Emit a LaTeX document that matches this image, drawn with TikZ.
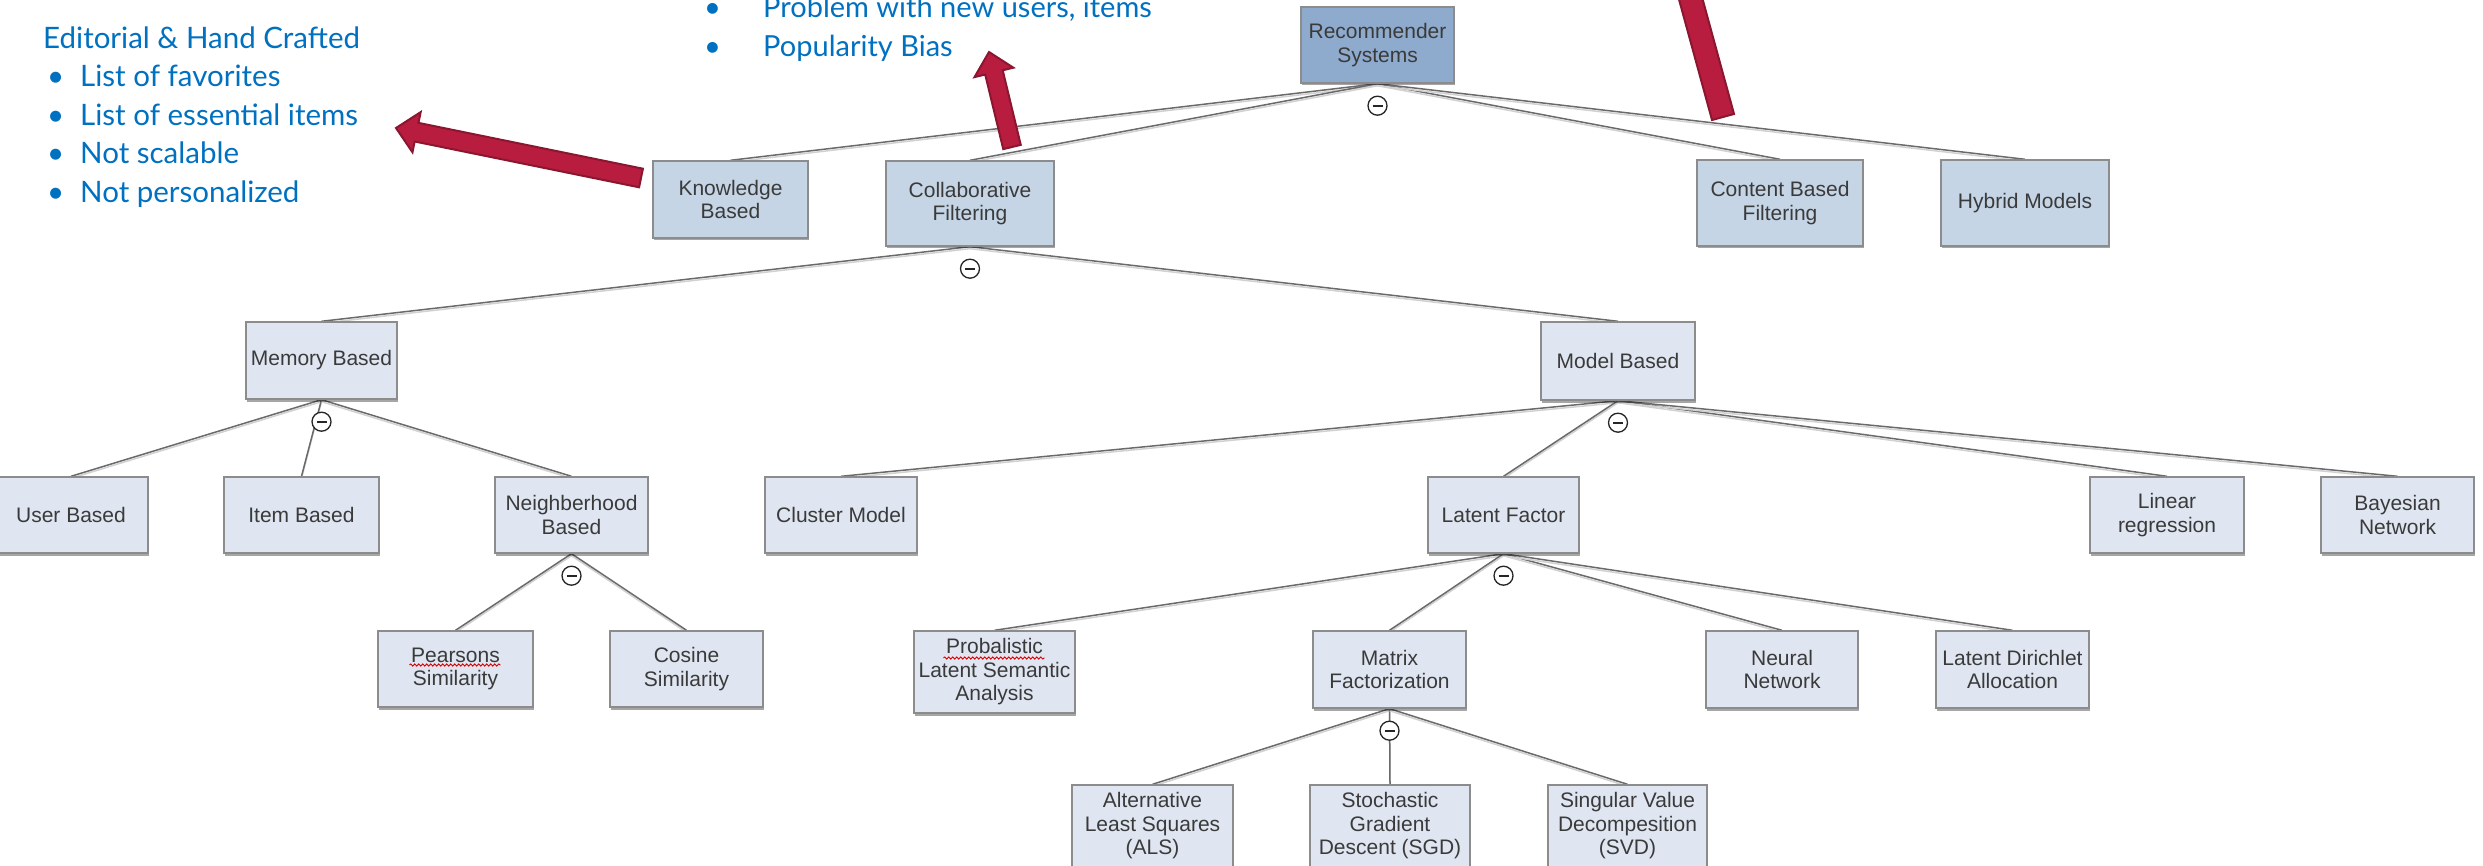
\documentclass[tikz,border=0pt]{standalone}
\usepackage{fontspec}
\setmainfont{Liberation Sans}
\newfontfamily\notefont{Lato}
\usetikzlibrary{calc,shadows,decorations.pathmorphing}

\definecolor{boxline}{HTML}{8C8C8C}
\definecolor{topfill}{HTML}{8EAACC}
\definecolor{midfill}{HTML}{C5D5E6}
\definecolor{leaffill}{HTML}{DFE6F1}
\definecolor{boxtext}{HTML}{3A3A3A}
\definecolor{linkgray}{HTML}{6A6A6A}
\definecolor{noteblue}{HTML}{0070C0}
\definecolor{arrowred}{HTML}{B81D40}
\definecolor{arrowedge}{HTML}{8A1630}

\pgfdeclarelayer{bg}
\pgfsetlayers{bg,main}

\tikzset{
  box/.style={rectangle, draw=boxline, line width=1.4pt, fill=leaffill,
    inner sep=0pt, align=center, text=boxtext,
    font=\fontsize{21pt}{23.5pt}\selectfont,
    drop shadow={shadow xshift=1pt, shadow yshift=-2.5pt, opacity=0.35, fill=black}},
  lvlbox/.style={box, fill=midfill},
  rootbox/.style={box, fill=topfill},
  sz/.style 2 args={minimum width=#1pt, minimum height=#2pt},
  link/.style={draw=linkgray, line width=1.5pt},
  linkshade/.style={draw=black!18, line width=1.5pt, transform canvas={yshift=-2pt}},
  xorsign/.style={circle, draw=black!85, line width=1.3pt, fill=white,
    minimum size=19pt, inner sep=0pt,
    path picture={\draw[line width=1.8pt, black!85]
      ([xshift=-5pt]path picture bounding box.center) --
      ([xshift=5pt]path picture bounding box.center);}},
  note/.style={anchor=base west, inner sep=0pt, text=noteblue,
    font=\notefont\fontsize{29.5pt}{34pt}\selectfont},
  bignote/.style={note, font=\notefont\fontsize{29pt}{34pt}\selectfont},
  redarrow/.style={fill=arrowred, draw=arrowedge, line width=2pt, line join=miter},
  spell/.style={draw=red!85!black, line width=0.9pt, decorate,
    decoration={snake, amplitude=1.1pt, segment length=4pt}},
}

% block arrow: tail, tip, half shaft width, half head width, head length
\newcommand{\redarrow}[5]{%
  \coordinate (ra-b) at ($(#2)!#5!(#1)$);
  \filldraw[redarrow] ($(#1)!#3!90:(#2)$) -- ($(ra-b)!#3!90:(#2)$)
    -- ($(ra-b)!#4!90:(#2)$) -- (#2) -- ($(ra-b)!#4!-90:(#2)$)
    -- ($(ra-b)!#3!-90:(#2)$) -- ($(#1)!#3!-90:(#2)$) -- cycle;}

\begin{document}
\begin{tikzpicture}[x=1pt, y=-1pt]
\useasboundingbox (0,0) rectangle (2483,866);

% level 0 and 1
\node[rootbox, sz={153}{76}] (rec) at (1377.5,45) {Recommender\\Systems};
\node[lvlbox, sz={155}{77}] (kb) at (730.5,199.5) {Knowledge\\Based};
\node[lvlbox, sz={168}{85}] (cf) at (970,203.5) {Collaborative\\Filtering};
\node[lvlbox, sz={166}{86}] (cbf) at (1780,203) {Content Based\\Filtering};
\node[lvlbox, sz={168}{86}] (hyb) at (2025,203) {Hybrid Models};

% level 2
\node[box, sz={151}{77}] (mem) at (321.5,360.5) {Memory Based};
\node[box, sz={154}{78}] (mod) at (1618,361) {Model Based};

% level 3
\node[box, sz={154}{76}] (user) at (71,515) {User Based};
\node[box, sz={155}{76}] (item) at (301.5,515) {Item Based};
\node[box, sz={153}{76}] (neigh) at (571.5,515) {Neighberhood\\Based};
\node[box, sz={152}{76}] (clus) at (841,515) {Cluster Model};
\node[box, sz={151}{76}] (lat) at (1503.5,515) {Latent Factor};
\node[box, sz={154}{76}] (lin) at (2167,515) {Linear\\regression};
\node[box, sz={153}{76}] (bay) at (2397.5,515) {Bayesian\\Network};

% level 4
\node[box, sz={155}{76}] (pear) at (455.5,669) {Pearsons\\Similarity};
\node[box, sz={153}{76}] (cos) at (686.5,669) {Cosine\\Similarity};
\node[box, sz={161}{82}] (plsa) at (994.5,672) {Probalistic\\Latent Semantic\\Analysis};
\node[box, sz={153}{77}] (mf) at (1389.5,669.5) {Matrix\\Factorization};
\node[box, sz={152}{77}] (nn) at (1782,669.5) {Neural\\Network};
\node[box, sz={153}{77}] (lda) at (2012.5,669.5) {Latent Dirichlet\\Allocation};

% level 5
\node[box, sz={161}{82}] (als) at (1152.5,826) {Alternative\\Least Squares\\(ALS)};
\node[box, sz={160}{82}] (sgd) at (1390,826) {Stochastic\\Gradient\\Descent (SGD)};
\node[box, sz={159}{82}] (svd) at (1627.5,826) {Singular Value\\Decompesition\\(SVD)};

% spell-check underlines
\draw[spell] ($(pear.center)+(-46,-4)$) -- ($(pear.center)+(45,-4)$);
\draw[spell] ($(plsa.center)+(-51,-14)$) -- ($(plsa.center)+(50,-14)$);

% tree connectors
\begin{pgfonlayer}{bg}
\foreach \a/\b in {rec/kb, rec/cf, rec/cbf, rec/hyb, cf/mem, cf/mod,
    mem/user, mem/item, mem/neigh, neigh/pear, neigh/cos,
    mod/clus, mod/lat, mod/lin, mod/bay,
    lat/plsa, lat/mf, lat/nn, lat/lda, mf/als, mf/sgd, mf/svd} {
  \draw[linkshade] (\a.south) -- (\b.north);
  \draw[link] (\a.south) -- (\b.north);
}
\end{pgfonlayer}

% alternative markers below each parent
\foreach \p in {rec, cf, mem, neigh, mod, lat, mf}
  \node[xorsign] (\p-alt) at ([yshift=-22pt]\p.south) {};

% notes
\node[note] (kbhead) at (43,49) {Editorial \& Hand Crafted};
\foreach \t/\y/\n in {List of favorites/87/1, List of essential items/126/2,
    Not scalable/164/3, Not personalized/203/4} {
  \node[note] (kbdot\n) at (47,\y) {•};
  \node[note] (kbitem\n) at (80,\y) {\t};
}
\node[bignote] (cfdot1) at (704,18) {•};
\node[bignote] (cfitem1) at (763,18) {Problem with new users, items};
\node[bignote] (cfdot2) at (704,57) {•};
\node[bignote] (cfitem2) at (763,57) {Popularity Bias};

% call-out arrows
\coordinate (kbarrow-t) at (641,178);
\coordinate (kbarrow-p) at (396,128);
\redarrow{kbarrow-t}{kbarrow-p}{9.5pt}{20.5pt}{21pt}
\coordinate (cfarrow-t) at (1012,147);
\coordinate (cfarrow-p) at (989,52);
\redarrow{cfarrow-t}{cfarrow-p}{9pt}{20pt}{21pt}
\coordinate (cbarrow-t) at (1723,117);
\coordinate (cbarrow-p) at (1657,-124);
\redarrow{cbarrow-t}{cbarrow-p}{11.4pt}{24pt}{26pt}
\end{tikzpicture}
\end{document}
